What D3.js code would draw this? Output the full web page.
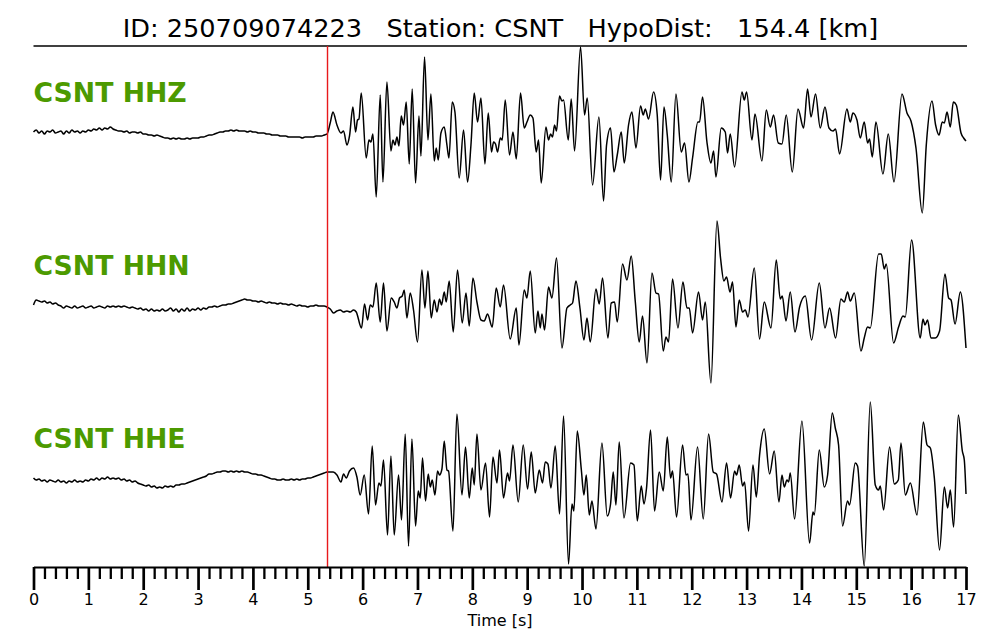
<!DOCTYPE html>
<html><head><meta charset="utf-8">
<script src="https://cdn.jsdelivr.net/npm/d3@7"></script>
<style>body{margin:0;background:#fff} svg{display:block;font-family:"DejaVu Sans",sans-serif}</style>
</head><body><svg id="c" width="1000" height="640"></svg>
<script>
// ---------------- data ----------------
const titleText = "ID: 250709074223   Station: CSNT   HypoDist:   154.4 [km]";
const traceNames = ["CSNT HHZ", "CSNT HHN", "CSNT HHE"];
const axisLabel = "Time [s]";
const pickTime = 5.36;
const timeDomain = [0, 17];
const majorTicks = [0,1,2,3,4,5,6,7,8,9,10,11,12,13,14,15,16,17];
const tickLabels = ["0","1","2","3","4","5","6","7","8","9","10","11","12","13","14","15","16","17"];
const minorStep = 0.2;
const noiseDt = 0.05;

// pre-event samples (every noiseDt seconds, starting at 0 s)
const hhzNoise = [1,3,0,2,-1,2,1,3,0,1,2,-1,2,0,3,1,2,0,2,1,
  3,2,4,3,5,3,5,4,6,4, 3,2,2,1,2,0,1,1,0,1, -1,-1,-2,-2,-3,-2,-3,-4,
  -5,-5,-6,-5,-6,-5,-6,-6,-5,-6,-5,-5, -5,-4,-4,-3,-2,-2,-1,0,
  1,1,2,2,3,2,3,2,2,2,1,2,1,1,0,0, 0,-1,-1,-2,-2,-2,-3,-3,-3,-4,
  -4,-4,-4,-4,-5,-4,-4,-4,-4,-3,-3,-3, -2,-1];
const hhnNoise = [0,5,4,3,4,2,3,1,2,0,
  -1,-3,-1,-2,-3,-1,-3,-2,-1,-3,-2,-1,-3,-2,-1,-2,-3,-1,-2,-1,
  -2,-1,-2,-1,-2,-3,-2,-3, -4,-3,-5,-4,-6,-4,-6,-5,-6,-4,-6,-5,
  -3,-6,-4,-7,-4,-6,-3,-6,-4,-5,-3,-5,-3,-4, -2,-2,-1,-2,-1,0,0,1,1,2,
  3,4,5,6,5,5,4, 4,3,4,3,2,3,2,2,1,2,1,1,0,1,0,
  -1,0,-1,-1,-2,-1,-1,0,-1,-1, -1,-2];
const hheNoise = [1,-1,0,-2,-1,-3,-1,-2,-3,-1,
  -3,-2,-4,-2,-3,-1,-3,-2,-3,-1, -2,0,-1,1,-1,1,0,2,0,1,
  0,1,-1,0,-2,-1,-3,-2,-4,-5, -6,-7,-6,-8,-7,-9,-8,-9,-7,-8,
  -7,-8,-6,-6,-5,-5,-4,-3,-2,-1, 0,1,2,3,5,5,6,7,7,8,
  8,7,8,7,8,7,8,7,7,6, 5,5,4,4,3,2,1,0,0,-1,
  -1,0,-1,-1,0,-1,0,-1,0,0, 1,1,2,3,4,5,6,7];

// post-arrival waveform: [time s, amplitude]
const hhzWave = [[5.409,10],[5.459,21],[5.532,8],[5.605,0],[5.652,2],[5.714,-12],[5.761,-3],[5.823,26],[5.871,1],[5.907,13],[5.933,14],[5.975,40],[6.066,-25],[6.115,-7],[6.151,-9],[6.188,-1],[6.248,-64],[6.321,38],[6.370,-49],[6.443,51],[6.516,-18],[6.553,-7],[6.589,-12],[6.626,-4],[6.662,-13],[6.704,17],[6.746,8],[6.795,31],[6.850,-31],[6.904,44],[6.965,-50],[7.027,17],[7.063,-23],[7.129,76],[7.191,-7],[7.245,39],[7.306,-28],[7.342,-15],[7.379,-27],[7.428,0],[7.488,6],[7.537,-12],[7.574,-25],[7.634,31],[7.683,21],[7.761,-45],[7.840,3],[7.913,-49],[7.975,-12],[8.035,40],[8.095,11],[8.157,35],[8.230,-31],[8.290,20],[8.350,-19],[8.387,-9],[8.423,-11],[8.460,-19],[8.509,-5],[8.545,-7],[8.600,33],[8.678,-22],[8.741,1],[8.801,-26],[8.879,40],[8.946,5],[8.996,11],[9.056,18],[9.105,15],[9.165,-19],[9.207,-7],[9.256,-50],[9.342,6],[9.389,-7],[9.426,-1],[9.462,-4],[9.499,8],[9.535,2],[9.590,37],[9.634,32],[9.663,33],[9.749,-7],[9.803,34],[9.864,-18],[9.973,86],[10.046,18],[10.095,35],[10.192,-52],[10.308,16],[10.392,-68],[10.447,-12],[10.520,5],[10.582,-39],[10.642,-22],[10.715,1],[10.770,-30],[10.848,8],[10.910,21],[10.983,-15],[11.067,27],[11.116,18],[11.153,24],[11.213,14],[11.304,41],[11.371,18],[11.432,-47],[11.494,26],[11.554,-2],[11.627,-49],[11.712,39],[11.809,-19],[11.869,-10],[11.949,-49],[12.015,-25],[12.113,11],[12.143,11],[12.197,36],[12.277,-9],[12.350,-30],[12.398,-18],[12.441,-44],[12.538,5],[12.611,1],[12.653,-20],[12.702,-1],[12.781,-34],[12.916,41],[12.958,33],[13.000,41],[13.098,-7],[13.153,19],[13.280,-28],[13.359,23],[13.432,6],[13.492,18],[13.577,-10],[13.645,-11],[13.723,18],[13.833,-39],[13.937,24],[14.039,5],[14.112,44],[14.174,16],[14.257,39],[14.343,5],[14.429,26],[14.502,5],[14.575,2],[14.622,4],[14.695,-21],[14.830,24],[14.890,11],[14.939,20],[15.012,13],[15.072,-5],[15.145,11],[15.206,-10],[15.242,-6],[15.291,-24],[15.358,11],[15.486,-41],[15.583,-1],[15.687,-49],[15.833,39],[15.924,20],[15.997,12],[16.088,-15],[16.203,-80],[16.276,-12],[16.380,32],[16.446,8],[16.508,-2],[16.568,11],[16.605,10],[16.654,21],[16.714,6],[16.769,31],[16.823,28],[16.909,0],[16.957,-5],[17.0,-8]];

const hhnWave = [[5.410,-4],[5.470,-8],[5.532,-6],[5.592,-5],[5.652,-7],[5.714,-6],[5.774,-7],[5.834,-5],[5.884,-7],[5.980,-23],[6.035,1],[6.090,-15],[6.139,0],[6.188,-2],[6.248,22],[6.321,-17],[6.381,22],[6.443,-26],[6.522,7],[6.576,3],[6.626,-3],[6.673,7],[6.722,9],[6.759,15],[6.808,-13],[6.868,12],[6.928,-5],[7.001,-37],[7.081,35],[7.136,-3],[7.191,34],[7.251,-13],[7.306,5],[7.355,-7],[7.402,6],[7.439,0],[7.488,13],[7.524,3],[7.579,24],[7.652,-27],[7.730,35],[7.816,-18],[7.884,12],[7.944,-21],[8.011,27],[8.084,3],[8.157,-15],[8.217,-16],[8.277,-9],[8.363,-22],[8.436,17],[8.509,-2],[8.569,20],[8.691,-34],[8.801,-3],[8.850,-40],[8.946,15],[8.996,7],[9.056,34],[9.147,-28],[9.196,-6],[9.238,-23],[9.269,-9],[9.317,-25],[9.389,18],[9.451,7],[9.535,47],[9.634,-43],[9.725,-3],[9.785,0],[9.827,2],[9.889,24],[9.962,-3],[10.035,-35],[10.090,-13],[10.150,-37],[10.254,16],[10.314,1],[10.374,27],[10.472,-33],[10.533,2],[10.593,3],[10.642,-17],[10.739,41],[10.819,25],[10.897,49],[10.970,4],[11.043,-37],[11.103,-11],[11.184,-58],[11.275,32],[11.348,12],[11.395,11],[11.481,-46],[11.530,-32],[11.577,-37],[11.650,26],[11.749,-23],[11.840,23],[11.913,-3],[11.955,-3],[12.015,-28],[12.124,13],[12.197,-15],[12.247,3],[12.350,-78],[12.460,84],[12.525,47],[12.587,24],[12.635,28],[12.697,13],[12.744,23],[12.806,-22],[12.866,5],[12.927,-7],[12.976,-5],[13.025,-12],[13.140,37],[13.236,-34],[13.322,3],[13.444,-23],[13.541,45],[13.614,6],[13.650,9],[13.718,-16],[13.796,13],[13.882,-27],[13.966,-2],[14.070,9],[14.185,-35],[14.325,22],[14.429,-23],[14.513,-3],[14.622,-33],[14.720,6],[14.780,3],[14.841,13],[14.890,4],[14.963,12],[15.085,-46],[15.145,-33],[15.206,-22],[15.255,-23],[15.406,51],[15.455,51],[15.510,36],[15.546,41],[15.680,-38],[15.771,-22],[15.851,-11],[15.893,-12],[16.008,65],[16.166,-33],[16.216,-14],[16.252,-20],[16.299,-15],[16.361,-33],[16.440,-33],[16.518,-26],[16.617,31],[16.683,7],[16.727,5],[16.800,-19],[16.897,13],[17.0,-43]];

const hheWave = [[5.409,7],[5.464,7],[5.532,4],[5.605,-3],[5.652,5],[5.701,1],[5.761,8],[5.834,11],[5.896,2],[5.956,-16],[6.029,4],[6.108,-35],[6.175,33],[6.235,-26],[6.297,-4],[6.334,-7],[6.381,19],[6.454,-56],[6.516,23],[6.576,-56],[6.655,4],[6.709,-41],[6.777,45],[6.837,-67],[6.899,40],[6.965,-47],[7.014,-12],[7.050,-19],[7.092,21],[7.147,-22],[7.196,5],[7.233,-8],[7.269,-1],[7.318,-16],[7.366,8],[7.402,4],[7.446,10],[7.488,38],[7.537,9],[7.566,8],[7.647,-52],[7.719,65],[7.811,-16],[7.876,32],[7.944,-19],[7.998,11],[8.035,-6],[8.084,45],[8.157,-11],[8.241,16],[8.314,-38],[8.376,22],[8.449,-4],[8.496,29],[8.569,-19],[8.642,6],[8.678,-2],[8.741,34],[8.837,-23],[8.928,34],[9.007,-10],[9.074,27],[9.147,-14],[9.220,9],[9.280,-4],[9.329,17],[9.378,15],[9.433,-9],[9.512,33],[9.590,-35],[9.663,63],[9.754,-85],[9.816,-25],[9.852,-32],[9.913,48],[9.986,10],[10.035,-16],[10.077,4],[10.132,-36],[10.181,-22],[10.254,-50],[10.363,36],[10.460,-37],[10.520,-25],[10.569,7],[10.618,-26],[10.678,37],[10.764,-39],[10.885,16],[10.947,14],[11.007,-42],[11.080,-7],[11.129,-25],[11.176,-9],[11.249,49],[11.322,-32],[11.408,7],[11.481,-12],[11.554,42],[11.614,1],[11.650,8],[11.723,-38],[11.833,34],[11.895,4],[11.931,5],[11.986,-41],[12.106,32],[12.210,-40],[12.307,45],[12.392,7],[12.452,5],[12.551,-23],[12.635,16],[12.708,-19],[12.781,8],[12.817,4],[12.866,14],[12.927,-7],[12.963,-3],[13.036,-52],[13.116,14],[13.177,-18],[13.237,24],[13.322,50],[13.419,5],[13.504,28],[13.590,-23],[13.645,4],[13.687,-8],[13.736,-1],[13.766,-3],[13.796,6],[13.875,-40],[14.009,58],[14.148,-64],[14.210,-33],[14.234,-36],[14.325,29],[14.416,-8],[14.477,4],[14.562,66],[14.617,51],[14.677,34],[14.750,-47],[14.841,-22],[14.877,-26],[14.981,16],[15.023,13],[15.145,-87],[15.255,77],[15.346,-6],[15.406,-11],[15.437,-7],[15.498,-31],[15.607,32],[15.693,-5],[15.766,-1],[15.815,36],[15.894,-16],[15.985,-4],[16.107,-36],[16.222,57],[16.290,34],[16.350,31],[16.423,1],[16.518,-71],[16.605,-8],[16.665,-29],[16.714,-11],[16.774,-48],[16.860,64],[16.933,28],[16.969,19],[17.0,-15]];

// ---------------- drawing ----------------
const svg = d3.select("#c");
const W = 1000, H = 640;
const plotLeft = 33.5, plotRight = 966, topLine = 46, axisY = 567;
const baselines = [133, 305, 479];
const labelBaselines = [102, 275, 448];
const green = "#4C9A00";

const x = d3.scaleLinear().domain(timeDomain).range([plotLeft, plotRight]);

svg.append("rect").attr("width", W).attr("height", H).attr("fill", "#fff");

// title
svg.append("text").attr("x", 500.5).attr("y", 37).attr("text-anchor", "middle")
  .attr("font-size", 25.6).attr("fill", "#000").style("white-space", "pre")
  .attr("xml:space", "preserve").text(titleText);
svg.append("line").attr("x1", plotLeft).attr("x2", plotRight + 1).attr("y1", topLine).attr("y2", topLine)
  .attr("stroke", "#000").attr("stroke-width", 1.5);

const traces = [
  {noise: hhzNoise, wave: hhzWave},
  {noise: hhnNoise, wave: hhnWave},
  {noise: hheNoise, wave: hheWave}
];

traces.forEach((tr, k) => {
  const b = baselines[k];
  const y = d3.scaleLinear().domain([-100, 100]).range([b + 100, b - 100]);
  const pts = tr.noise.map((v, i) => [i * noiseDt, v]).concat(tr.wave);
  const line = d3.line().x(d => x(d[0])).y(d => y(d[1])).curve(d3.curveMonotoneX);
  svg.append("path").attr("d", line(pts)).attr("fill", "none")
    .attr("stroke", "#000").attr("stroke-width", 1.5).attr("stroke-linejoin", "round");
  svg.append("text").attr("x", plotLeft).attr("y", labelBaselines[k])
    .attr("font-size", 26.7).attr("font-weight", "bold").attr("fill", green).text(traceNames[k]);
});

// pick line
svg.append("line").attr("x1", x(pickTime)).attr("x2", x(pickTime))
  .attr("y1", topLine).attr("y2", axisY).attr("stroke", "#e8191b").attr("stroke-width", 1.4);

// axes
const minorTicks = d3.range(0, timeDomain[1] + 1e-6, minorStep).filter(t => Math.abs(t - Math.round(t)) > 1e-6);
const gMinor = svg.append("g").attr("transform", `translate(0,${axisY})`)
  .call(d3.axisBottom(x).tickValues(minorTicks).tickSize(12).tickSizeOuter(0).tickFormat(""));
gMinor.selectAll(".tick line").attr("stroke", "#000").attr("stroke-width", 2.3);
gMinor.select(".domain").remove();

const gMajor = svg.append("g").attr("transform", `translate(0,${axisY})`)
  .call(d3.axisBottom(x).tickValues(majorTicks).tickSize(23).tickSizeOuter(0).tickPadding(4)
    .tickFormat((d, i) => tickLabels[i]));
gMajor.selectAll(".tick line").attr("stroke", "#000").attr("stroke-width", 2.7);
gMajor.select(".domain").attr("stroke", "#000").attr("stroke-width", 2.2);
gMajor.selectAll(".tick text").attr("font-size", 16).attr("fill", "#000")
  .attr("font-family", "DejaVu Sans, sans-serif");

svg.append("text").attr("x", 500).attr("y", 625.5).attr("text-anchor", "middle")
  .attr("font-size", 16).attr("fill", "#000").text(axisLabel);
</script></body></html>
